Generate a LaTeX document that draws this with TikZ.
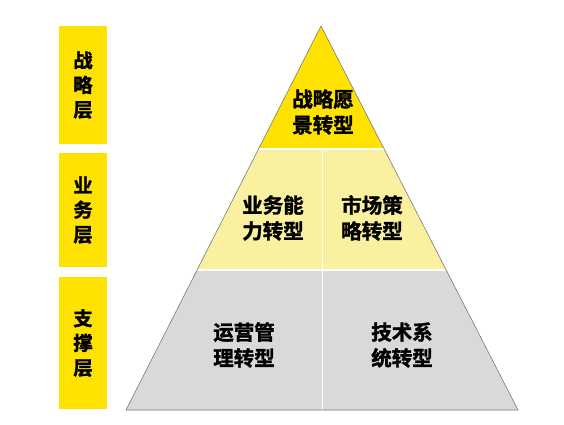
\documentclass[tikz,border=0pt]{standalone}
\usepackage{fontspec}
\setmainfont{Noto Sans CJK SC Bold}[FakeBold=1.6]
\usetikzlibrary{calc}
\definecolor{lyryellow}{RGB}{255,226,0}
\definecolor{lyrpale}{RGB}{250,241,160}
\definecolor{lyrgray}{RGB}{217,217,217}
\definecolor{lyredge}{RGB}{120,120,120}

\begin{document}
\begin{tikzpicture}
[x=0.03cm,y=-0.03cm,
layerbox/.style={fill=lyryellow,minimum width=1.44cm,inner sep=0pt,align=center,font=\fontsize{16.5}{21}\selectfont},
tag/.style={align=center,inner sep=0pt,font=\fontsize{17.5}{22}\selectfont},]

\useasboundingbox[fill=white] (0,0) rectangle (564,425);

%Pyramid corners
\coordinate (apex) at (321,26);
\coordinate (bl) at (126,410);
\coordinate (br) at (518,410);

%Band borders
\def\ya{149}
\def\yb{270}
\def\xm{322}

%Filling the bands
\begin{scope}
\clip (apex) -- (bl) -- (br) -- cycle;
\fill[lyryellow] (0,0) rectangle (564,\ya);
\fill[lyrpale] (0,\ya) rectangle (564,\yb);
\fill[lyrgray] (0,\yb) rectangle (564,425);
\draw[white,line width=0.9pt] (0,\ya) -- (564,\ya);
\draw[white,line width=0.9pt] (0,\yb) -- (564,\yb);
\draw[white,line width=0.7pt] (\xm,\ya) -- (\xm,410);
\end{scope}

%Drawing the outline
\draw[lyredge,line width=0.5pt] (apex) -- (bl) -- (br) -- cycle;

%Layer labels on the left
\node (strat) at (83,85)[layerbox,minimum height=3.54cm] {战\\略\\层};
\node (biz) at (83,210)[layerbox,minimum height=3.42cm] {业\\务\\层};
\node (supp) at (83,343)[layerbox,minimum height=3.96cm] {支\\撑\\层};

%Texts in the pyramid
\node (vision) at (323,112)[tag] {战略愿\\景转型};
\node (ability) at (273,218)[tag] {业务能\\力转型};
\node (market) at (372,218)[tag] {市场策\\略转型};
\node (ops) at (244,345)[tag] {运营管\\理转型};
\node (tech) at (402,345)[tag] {技术系\\统转型};

\end{tikzpicture}
\end{document}
